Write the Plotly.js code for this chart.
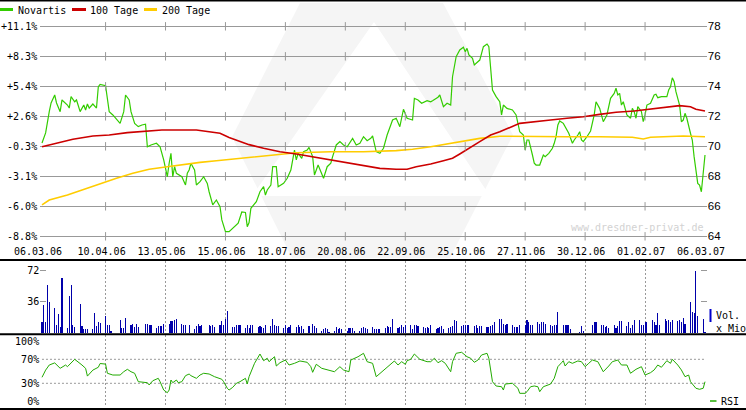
<!DOCTYPE html>
<html><head><meta charset="utf-8">
<script src="https://cdn.plot.ly/plotly-3.0.1.min.js"></script>
<style>html,body{margin:0;padding:0;background:#fff;}#chart{width:746px;height:410px;}</style>
</head><body><div id="chart"></div>
<script>
// ---------------- DATA ----------------
const startDate = '2006-03-06';            // day 0 of the day-offset arrays
const endDate = '2007-03-06';
// Novartis close (CHF), calendar-day offset from startDate
const priceDay = [0,2,4,5,7,8,10,11,14,15, 16,18,19,21,23,24,25,26,28,30, 31,32,35,37,39,43,45,46,48,49,
  51,53,55,57,58,60,63,65,67,68, 69,70,71,72,73,74,77,79,80,81, 82,83,84,85,87,89,91,92,94,96,
  98,99,101,103,105,108,110,112,113,114, 115,118,120,122,123,124,126,127,129,130, 133,135,137,139,140,141,143,144,146,147,
  149,150,152,153,155,157,159,160,162,164, 166,168,170,171,173,175,177,179,181,182, 184,186,188,190,192,193,195,197,199,200,
  201,204,205,207,209,212,214,215,218,219, 221,223,225,226,228,230,232,233,234,235, 237,238,241,243,245,246,248,250,252,253,
  254,256,259,261,263,265,266,267,268,270, 271,272,274,276,277,279,281,282,283,284, 285,287,289,290,292,293,295,296,297,298,
  300,302,304,305,307,309,311,313,315,316, 317,318,319,320,322,324,325,326,327,328, 330,331,332,333,335,337,338,339,341,344,
  345,346,347,348,349,351,352,353,354,355, 357,358,359,360,361,362,363,364,365];
const priceVal = [70.22,70.89,72.31,72.89,73.42,72.89,72.31,73.09,72.75,72.55, 73.31,72.97,73.09,72.31,72.75,72.42,72.82,72.55,72.82,72.55, 73.97,74.13,74.04,72.31,72.09,71.53,72.31,73.42,73.09,72.31,
  71.53,71.31,71.42,71.47,69.97,70.09,70.2,69.97,69.09,68.53, 67.97,68.87,69.53,67.97,68.64,68.2,67.97,67.42,68.2,68.42, 68.87,68.64,68.42,67.42,67.64,67.97,67.53,66.97,66.09,66.42,
  65.97,65.09,64.31,64.31,64.53,64.87,65.62,65.59,64.64,64.92, 65.87,66.31,66.97,67.31,66.75,67.09,67.42,68.64,68.64,67.31, 67.53,67.87,68.42,69.75,69.09,69.53,69.2,69.64,69.75,69.93,
  69.31,68.09,68.75,68.42,67.87,68.64,68.87,69.31,70.09,70.31, 70.09,69.97,70.31,70.53,70.09,70.2,70.64,70.37,70.53,70.69, 69.64,69.53,69.87,70.75,71.42,71.75,71.87,71.31,72.47,72.2,
  71.87,71.75,73.2,73.09,72.87,73.04,72.97,73.04,73.27,73.42, 72.64,72.87,72.75,74.64,75.97,76.42,76.6,76.31,76.53,76.09, 75.87,75.42,75.75,76.64,76.82,76.64,73.75,73.31,72.97,72.09,
  72.75,72.53,72.42,72.09,70.97,70.75,69.75,70.42,70.42,69.42, 68.87,68.75,68.75,69.42,69.31,69.53,69.87,70.2,70.64,71.42, 71.69,71.53,71.09,70.87,70.2,70.42,70.75,70.97,70.42,70.31,
  70.64,71.02,72.09,72.97,72.53,71.64,72.09,73.2,73.53,73.87, 73.42,73.53,72.75,72.97,72.09,71.87,72.53,72.31,71.87,72.64, 72.31,71.64,72.09,72.75,72.87,73.42,73.47,73.24,73.31,73.31,
  73.75,73.97,74.57,74.31,73.64,72.75,71.64,71.75,72.2,71.87, 70.87,70.42,69.31,68.2,67.53,67.42,66.97,68.2,69.42];
// 100-day moving average
const ma100Day = [0,8,17,28,37,47,58,66,85,92, 98,103,109,114,122,131,140,149,159,168, 177,186,195,201,206,214,221,226,230,236, 241,247,252,263,270,280,289,298,307,316, 326,335,344,351,357,360,365];
const ma100Val = [69.97,70.2,70.47,70.69,70.75,70.91,71.02,71.09,71.09,70.97, 70.87,70.59,70.31,70.11,69.87,69.64,69.49,69.31,69.09,68.91, 68.75,68.53,68.47,68.47,68.64,68.82,69.04,69.2,69.49,69.97, 70.31,70.75,70.97,71.53,71.6,71.75,71.87,71.97,72.13,72.27, 72.35,72.49,72.62,72.71,72.64,72.47,72.35];
// 200-day moving average
const ma200Day = [0,4,14,23,32,41,50,59,69,78, 87,96,105,114,122,140,159,177,195,204, 214,223,232,241,252,270,289,307,325,331, 335,353,365];
const ma200Val = [66.09,66.42,66.75,67.13,67.53,67.87,68.2,68.47,68.64,68.8, 68.93,69.04,69.15,69.27,69.37,69.57,69.64,69.64,69.71,69.8, 69.97,70.15,70.35,70.53,70.67,70.64,70.64,70.64,70.6,70.49, 70.6,70.69,70.64];
// trading-day volume (Mio), one value per weekday that is not a holiday
const holidays = ['2006-04-14','2006-04-17','2006-05-01','2006-05-25','2006-06-05','2006-08-01','2006-12-25','2006-12-26','2007-01-01','2007-01-02'];
const volume = [13,33,13,56,36, 29,9,22,7,63, 6,43,56,9,7, 34,8,5,5,5, 5,23,8,13,12, 20,10,9,3, 15,6,6,18, 9,11,7,11,7, 11,11,9,9,
  6,8,8,8,11, 11,14,14,15,16, 11,10,10,9, 5,8,11,8,9, 10,8,10,7, 9,14,9,17,26, 7,7,9,10,9, 6,9,6,9,10, 7,8,7,6,9,
  8,16,10,8,8, 6,10,6,7,9, 7,9,7,8,5, 8,11,8,6, 3,5,6,5,2, 3,7,5,6,5, 3,6,6,6,3, 3,6,7,6,5, 7,5,5,5,5,
  6,8,7,7,16, 6,7,10,7,9, 10,5,9,9,8, 7,6,7,6,9, 5,6,7,8,5, 6,7,8,15,14, 8,9,9,10,10, 8,10,6,8,8, 7,7,8,9,13,
  17,17,11,10,11, 9,7,7,7,10, 9,15,13,10,10, 13,11,13,13,11, 9,8,9,9,25, 9,10,10,10,5, 2,8,3, 10,13,13,
  10,9,7,8,6, 10,6,8,14,14, 8,13,6,9,15, 15,10,10,13,13, 15,13,10,23,10, 16,14,15,13,15, 14,15,13,18,11, 36,24,23,72,20, 16,2];
// RSI
const rsiDay = [0,2,4,7,10,13,14,18,22,24, 25,28,31,32,35,36,39,43,45,47, 49,51,53,56,58,59,61,64,65,67, 69,70,71,72,74,75,77,79,81,82,
  85,87,89,92,95,99,100,102,103,105, 107,109,112,113,114,117,120,122,124,125, 128,129,131,134,136,139,142,146,148,149, 151,154,157,159,161,164,166,169,170,174,
  177,179,182,184,187,189,192,194,196,198, 200,201,203,205,208,212,214,216,218,220, 222,223,225,226,228,231,234,236,238,240, 242,245,246,248,250,253,254,255,259,262,
  263,266,267,269,271,273,274,276,279,280, 282,284,286,287,288,290,292,295,297,299, 301,303,306,309,312,314,317,319,322,324, 327,330,332,335,337,339,341,344,346,347,
  350,352,354,356,357,360,362,364,365];
const rsiVal = [40,52,60.5,64,55,60.5,57.7,70,60.5,55, 42,52,56.7,63,62,46.7,43.8,43.8,49.3,53.3, 49.3,46.7,32.7,31,31,27.2,34.3,38.3,32.7,18.8, 14.3,18.8,35.5,31,35.5,31,32.7,42.7,45.5,42.7,
  38.3,43.8,46.7,45.5,41,36.7,32.7,21.7,18.8,23.3, 30,32.7,38.3,28.8,41,63.3,78.8,67.7,71.7,66, 74.3,58.8,64.3,68.8,60.5,63.3,67.2,65,57.7,48.3, 61.7,55,52.2,51,49.3,57.7,52.2,49.3,68.8,74.3,
  80,66,63.3,41,49.3,55,63.3,67.2,60.5,66, 61.7,67.7,70,78.8,70,66,66,71.7,64.3,67.7, 63.3,58.8,49.3,66,80,81.7,74.3,71.7,65,68.8, 77.2,80,71.7,32.7,25.5,24.3,18.8,28.8,30,21.7,
  13.3,13.3,16,24.3,25.5,24.3,16,24.3,27.2,28.8, 38.3,57.7,64.3,67.7,58.8,66,63.3,67.2,66,57.7, 63.3,68.8,66,49.3,58.8,66,68.8,60.5,60.5,46.7, 53.3,57.7,43.8,47.7,52.2,60.5,56.7,67.7,63.3,70,
  60.5,52.2,41,43.8,32.7,21.7,20,21.7,32.7];
// axes
const tickDates = ['2006-03-06','2006-04-10','2006-05-13','2006-06-15','2006-07-18','2006-08-20','2006-09-22','2006-10-25','2006-11-27','2006-12-30','2007-02-01','2007-03-06'];
const tickLabels = ['06.03.06','10.04.06','13.05.06','15.06.06','18.07.06','20.08.06','22.09.06','25.10.06','27.11.06','30.12.06','01.02.07','06.03.07'];
const priceTicks = [64,66,68,70,72,74,76,78];
const pctLabels = ['-8.8%','-6.0%','-3.1%','-0.3%','+2.6%','+5.4%','+8.3%','+11.1%'];
const volTicks = [36,72];
const rsiTicks = [0,30,70,100];
const rsiLabels = ['0%','30%','70%','100%'];
const rsiLevels = [30,70];
const legendNames = ['Novartis','100 Tage','200 Tage'];

// ---------------- BUILD ----------------
const DAY = 86400000;
const base = Date.parse(startDate + 'T00:00:00Z');
const toDate = d => new Date(base + d * DAY).toISOString().slice(0, 10);
const volDates = [];
for (let t = base; t <= Date.parse(endDate + 'T00:00:00Z'); t += DAY) {
  const dt = new Date(t), s = dt.toISOString().slice(0, 10), wd = dt.getUTCDay();
  if (wd === 0 || wd === 6 || holidays.includes(s)) continue;
  volDates.push(s);
}
const innerTicks = tickDates.slice(1, -1);
const markX = [], markY = [];
innerTicks.forEach(d => priceTicks.forEach(p => { markX.push(d); markY.push(p); }));

const W = 746, H = 410;
const fx = p => p / W, fy = p => 1 - p / H;
const xDom = [fx(40.18), fx(706.82)];
const xRange = ['2006-03-05', '2007-03-07'];
const MONO = 'DejaVu Sans Mono';
const C_PRICE = '#33cc00', C_100 = '#cc0000', C_200 = '#ffcc00', C_VOL = '#0000aa', C_RSI = '#22aa00', C_GRID = '#999999';

const traces = [
  {x: priceDay.map(toDate), y: priceVal, xaxis: 'x', yaxis: 'y', type: 'scatter', mode: 'lines', line: {color: C_PRICE, width: 1.2}},
  {x: ma200Day.map(toDate), y: ma200Val, xaxis: 'x', yaxis: 'y', type: 'scatter', mode: 'lines', line: {color: C_200, width: 1.6}},
  {x: ma100Day.map(toDate), y: ma100Val, xaxis: 'x', yaxis: 'y', type: 'scatter', mode: 'lines', line: {color: C_100, width: 1.6}},
  // small tick marks where the date ticks cross the price grid (on the right-hand price axis)
  {x: markX, y: markY, xaxis: 'x', yaxis: 'y4', type: 'scatter', mode: 'markers',
   marker: {symbol: 'line-ns', size: 6, color: C_GRID, line: {color: C_GRID, width: 1}}},
  {x: volDates, y: volume.slice(0, volDates.length), xaxis: 'x2', yaxis: 'y2', type: 'bar',
   width: DAY * 0.6, marker: {color: C_VOL, line: {width: 0}}},
  {x: rsiDay.map(toDate), y: rsiVal, xaxis: 'x3', yaxis: 'y3', type: 'scatter', mode: 'lines', line: {color: C_RSI, width: 1}}
];

const logoOuter = [[300,3],[443,3],[513,135],[450,258],[292,258],[232,137]];
const logoInner = [[374,22],[490,196],[252,196]];
const pathOf = pts => 'M ' + pts.map(p => fx(p[0]) + ',' + fy(p[1])).join(' L ') + ' Z';
const bar = (y0, y1) => ({type: 'rect', xref: 'paper', yref: 'paper', x0: 0, x1: 1, y0: fy(y1), y1: fy(y0), fillcolor: '#000', line: {width: 0}, layer: 'above'});
const hline = (x0, x1, y, color, w) => ({type: 'line', xref: 'paper', yref: 'paper', x0: fx(x0), x1: fx(x1), y0: fy(y), y1: fy(y), line: {color: color, width: w}, layer: 'above'});

const shapes = [
  {type: 'path', xref: 'paper', yref: 'paper', path: pathOf(logoOuter), fillcolor: '#f5f5f5', line: {width: 0}, layer: 'below'},
  {type: 'path', xref: 'paper', yref: 'paper', path: pathOf(logoInner), fillcolor: '#ffffff', line: {width: 0}, layer: 'below'},
  bar(0, 1.5), bar(259, 261), bar(333.3, 335.3), bar(408, 410),
  hline(0, 13, 9.5, C_PRICE, 3), hline(72, 86, 9.5, C_100, 3), hline(144, 157, 9.5, C_200, 3),
  {type: 'line', xref: 'paper', yref: 'paper', x0: fx(710.5), x1: fx(710.5), y0: fy(322), y1: fy(309), line: {color: '#0000cc', width: 2}},
  hline(710, 716.5, 401, C_RSI, 1.5)
];
rsiLevels.forEach(v => shapes.push({type: 'line', xref: 'x3 domain', yref: 'y3', x0: 0.0027, x1: 0.9973, y0: v, y1: v,
  line: {color: C_GRID, width: 1, dash: '2px,2px'}, layer: 'below'}));

const ann = (x, y, text, anchor, color) => ({xref: 'paper', yref: 'paper', x: fx(x), y: fy(y), text: text, showarrow: false,
  xanchor: anchor || 'left', yanchor: 'middle', borderpad: 0, font: {family: MONO, size: 10, color: color || '#000'}});
const annotations = [
  ann(16.5, 10, legendNames[0]), ann(88.5, 10, legendNames[1]), ann(160.5, 10, legendNames[2]),
  ann(715, 315, 'Vol.'), ann(715, 328, 'x Mio'), ann(720, 401, 'RSI'),
  ann(703.5, 227, 'www.dresdner-privat.de', 'right', '#d2d2d2')
];

const axCommon = {zeroline: false, showline: false, fixedrange: true};
const layout = {
  width: W, height: H, margin: {l: 0, r: 0, t: 0, b: 0, pad: 0}, autosize: false,
  paper_bgcolor: '#ffffff', plot_bgcolor: 'rgba(0,0,0,0)', showlegend: false, hovermode: false,
  font: {family: MONO, size: 10, color: '#000'},
  xaxis: Object.assign({}, axCommon, {domain: xDom, range: xRange, type: 'date', anchor: 'y', tickmode: 'array', tickvals: tickDates, ticktext: tickLabels,
    ticks: '', showgrid: false, ticklabelshift: -4, tickfont: {family: MONO, size: 10, color: '#000'}}),
  yaxis: Object.assign({}, axCommon, {domain: [fy(243.8), fy(18.8)], range: [63.5, 78.5], anchor: 'x', tickmode: 'array', tickvals: priceTicks, ticktext: pctLabels,
    ticks: '', showgrid: true, gridcolor: C_GRID, gridwidth: 1, ticklabelstandoff: 2, tickfont: {family: MONO, size: 10, color: '#000'}}),
  yaxis4: Object.assign({}, axCommon, {overlaying: 'y', side: 'right', anchor: 'x', range: [63.5, 78.5], tickmode: 'array', tickvals: priceTicks,
    ticks: '', showgrid: false, tickfont: {family: 'Liberation Sans', size: 11.5, color: '#000'}}),
  xaxis2: Object.assign({}, axCommon, {domain: xDom, range: xRange, type: 'date', anchor: 'y2', tickmode: 'array', tickvals: innerTicks,
    showticklabels: false, ticks: '', showgrid: true, gridcolor: C_GRID, gridwidth: 1, griddash: '2px,2px'}),
  yaxis2: Object.assign({}, axCommon, {domain: [fy(333.3), fy(261)], range: [0, 83.1], anchor: 'x2', tickmode: 'array', tickvals: volTicks,
    ticks: 'inside', ticklen: 6, tickwidth: 1, tickcolor: C_GRID, mirror: 'ticks', showgrid: false, tickfont: {family: MONO, size: 10, color: '#000'}}),
  xaxis3: Object.assign({}, axCommon, {domain: xDom, range: xRange, type: 'date', anchor: 'y3', tickmode: 'array', tickvals: innerTicks,
    showticklabels: false, ticks: '', showgrid: true, gridcolor: C_GRID, gridwidth: 1, griddash: '2px,2px'}),
  yaxis3: Object.assign({}, axCommon, {domain: [fy(407), fy(335)], range: [-9.5, 110.5], anchor: 'x3', tickmode: 'array', tickvals: rsiTicks, ticktext: rsiLabels,
    ticks: '', showgrid: false, tickfont: {family: MONO, size: 10, color: '#000'}}),
  shapes: shapes, annotations: annotations, bargap: 0
};
Plotly.newPlot('chart', traces, layout, {staticPlot: true, displayModeBar: false});
</script></body></html>
